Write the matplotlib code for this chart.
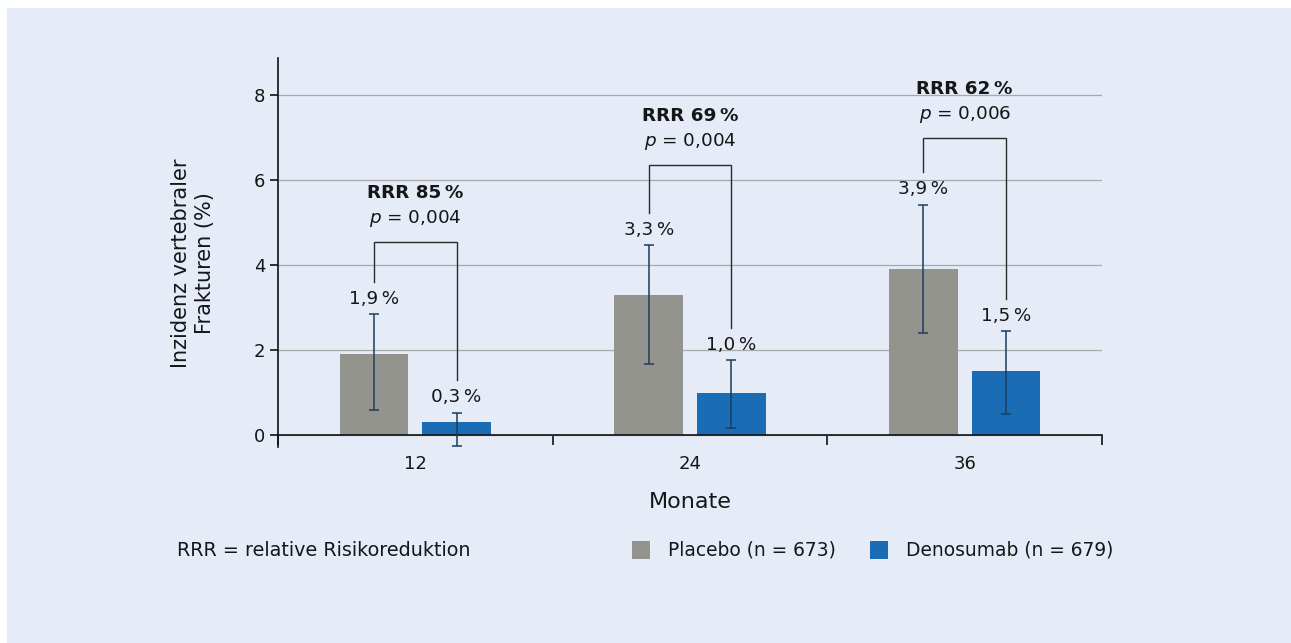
import matplotlib
matplotlib.use("Agg")
import matplotlib.pyplot as plt
from matplotlib.patches import Rectangle
import numpy as np

# --- data ---------------------------------------------------------------
months = ["12", "24", "36"]
series_names = ["Placebo (n = 673)", "Denosumab (n = 679)"]
placebo = [1.9, 3.3, 3.9]
denosumab = [0.3, 1.0, 1.5]
placebo_ci_low = [0.59, 1.67, 2.40]
placebo_ci_high = [2.84, 4.46, 5.41]
denosumab_ci_low = [-0.26, 0.17, 0.50]
denosumab_ci_high = [0.53, 1.76, 2.44]
rrr = [85, 69, 62]
p_values = ["0,004", "0,004", "0,006"]
yticks = [0, 2, 4, 6, 8]
footnote = "RRR = relative Risikoreduktion"

# --- style --------------------------------------------------------------
BG = "#e5ecf7"
GRAY = "#94948f"
BLUE = "#1a6db4"
ERR = "#1c3d5c"
INK = "#161616"
plt.rcParams["font.family"] = ["DejaVu Sans"]
plt.rcParams["text.color"] = INK

W, H = 1291, 643
fig = plt.figure(figsize=(W / 100, H / 100), dpi=100, facecolor="white")
fig.add_artist(Rectangle((7 / W, 0), 1 - 7 / W, 1 - 8 / H,
                         transform=fig.transFigure, facecolor=BG,
                         edgecolor="none", zorder=-10))

ax = fig.add_axes([278 / W, 1 - 447 / H, (1102 - 278) / W, (447 - 58) / H])
ax.patch.set_alpha(0)

x = np.arange(len(months))
width = 0.25
offset = 0.15

def pct(v):
    return f"{v:.1f}".replace(".", ",") + "\u2009%"

groups = [
    (placebo, placebo_ci_low, placebo_ci_high, GRAY, -offset),
    (denosumab, denosumab_ci_low, denosumab_ci_high, BLUE, offset),
]
for vals, lo, hi, color, dx in groups:
    vals = np.asarray(vals)
    lo = np.asarray(lo)
    hi = np.asarray(hi)
    ax.bar(x + dx, vals, width, color=color, zorder=2)
    ax.errorbar(x + dx, vals, yerr=[vals - lo, hi - vals], fmt="none",
                ecolor=ERR, elinewidth=1.1, capsize=3.3, capthick=1.1,
                zorder=3)
    for xi, v, h in zip(x + dx, vals, hi):
        ax.text(xi, h + 0.37, pct(v), ha="center", va="center",
                fontsize=13.2, color=INK, zorder=5)

# significance brackets with RRR / p annotations
bracket_top = [4.55, 6.35, 7.0]
leg_gap = 0.77
for i in range(len(months)):
    xl, xr = x[i] - offset, x[i] + offset
    top = bracket_top[i]
    ax.plot([xl, xl, xr, xr],
            [placebo_ci_high[i] + leg_gap, top, top,
             denosumab_ci_high[i] + leg_gap],
            color="#2b2b2b", lw=1.0, zorder=4, solid_joinstyle="miter")
    ax.text(x[i], top + 1.15, f"RRR {rrr[i]}\u2009%", ha="center",
            va="center", fontsize=13.2, fontweight="bold", zorder=5)
    ax.text(x[i], top + 0.55, f"$p$ = {p_values[i]}", ha="center",
            va="center", fontsize=13.2, zorder=5)

# axes
ax.set_xlim(-0.5, len(months) - 0.5)
ax.set_ylim(-0.28, 8.87)
ax.set_yticks(yticks)
ax.set_yticklabels([str(t) for t in yticks])
ax.yaxis.grid(True, color="#a9a9a9", lw=0.9, zorder=0)
ax.set_axisbelow(True)
for s in ("top", "right"):
    ax.spines[s].set_visible(False)
ax.spines["bottom"].set_position(("data", 0))
for s in ("left", "bottom"):
    ax.spines[s].set_linewidth(1.2)
    ax.spines[s].set_color("#111111")

ax.set_xticks(np.arange(-0.5, len(months)), labels=[""] * (len(months) + 1))
ax.set_xticks(x, labels=months, minor=True)
ax.tick_params(axis="x", which="major", length=7.5, width=1.2,
               direction="out", color="#111111")
ax.tick_params(axis="x", which="minor", length=0, pad=14, labelsize=13,
               labelcolor=INK)
ax.tick_params(axis="y", length=6, width=1.2, pad=3, labelsize=13,
               labelcolor=INK, color="#111111")

# axis titles
fig.text(193 / W, 1 - 263 / H, "Inzidenz vertebraler\nFrakturen (%)",
         rotation=90, ha="center", va="center", fontsize=15,
         multialignment="center", linespacing=1.2)
fig.text(690 / W, 1 - 502 / H, "Monate", ha="center", va="center",
         fontsize=16)

# footnote and legend
fig.text(177 / W, 1 - 551 / H, footnote, ha="left", va="center",
         fontsize=13.8)
legend_items = [(632, 668, GRAY, series_names[0]),
                (870, 906, BLUE, series_names[1])]
for sx, tx, color, label in legend_items:
    fig.add_artist(Rectangle((sx / W, 1 - 559 / H), 18 / W, 18 / H,
                             transform=fig.transFigure, facecolor=color,
                             edgecolor="none"))
    fig.text(tx / W, 1 - 550 / H, label, ha="left", va="center",
             fontsize=13.4)

fig.savefig("out.png", dpi=100, facecolor=fig.get_facecolor())
